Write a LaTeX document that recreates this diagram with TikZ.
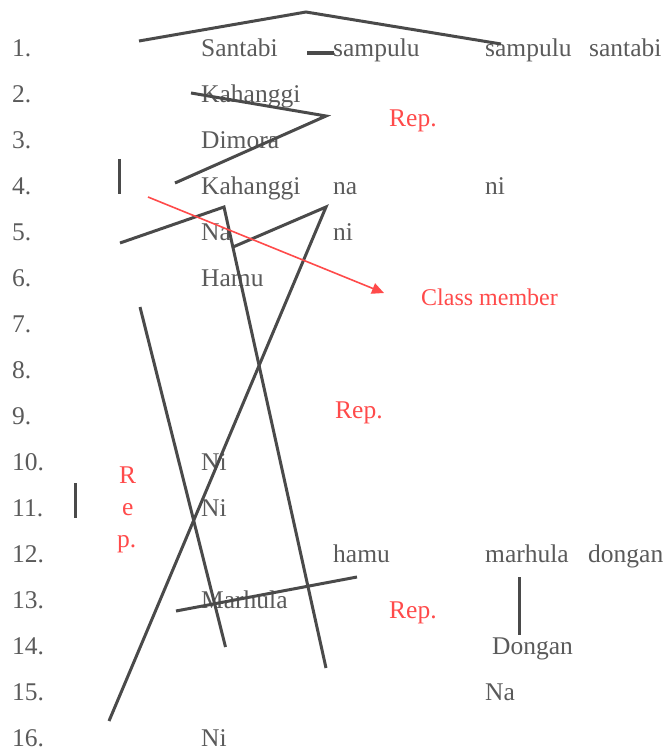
\documentclass[tikz,border=0pt]{standalone}
\usepackage{fontspec}
\setmainfont{Liberation Serif}
\usetikzlibrary{arrows.meta}
\definecolor{txtgray}{HTML}{5A5A5A}
\definecolor{linegray}{HTML}{4A4A4A}
\definecolor{repred}{HTML}{FF4A4A}
\begin{document}
\begin{tikzpicture}[x=1pt,y=-1pt,
  word/.style={anchor=base west,inner sep=0pt,text=txtgray,font=\fontsize{25.5}{30}\selectfont},
  num/.style={word},
  redword/.style={anchor=base west,inner sep=0pt,text=repred,font=\fontsize{25.5}{30}\selectfont},
  stroke/.style={draw=linegray,line width=3pt},
  redarrow/.style={draw=repred,line width=1.6pt,-{Triangle[length=12pt,width=11pt]}}]
\useasboundingbox (0,0) rectangle (667,751);
% row numbers
\foreach \i in {1,...,16}{
  \node[num] (n\i) at (12,{57+(\i-1)*45.95}) {\i.};
}
% column A
\node[word] (santabi1) at (201,57) {Santabi};
\node[word] (kahanggi2) at (201,103) {Kahanggi};
\node[word] (dimora) at (201,148.9) {Dimora};
\node[word] (kahanggi4) at (201,194.9) {Kahanggi};
\node[word] (na5) at (201,240.8) {Na};
\node[word] (hamu6) at (201,286.8) {Hamu};
\node[word] (ni10) at (201,470.6) {Ni};
\node[word] (ni11) at (201,516.5) {Ni};
\node[word] (marhula13) at (201,608.4) {Marhula};
\node[word] (ni16) at (201,746.3) {Ni};
% column B
\node[word] (sampulu1) at (333,57) {sampulu};
\node[word] (na4) at (333,194.9) {na};
\node[word] (ni5) at (333,240.8) {ni};
\node[word] (hamu12) at (333,562.5) {hamu};
% column C
\node[word] (sampulu1b) at (485,57) {sampulu};
\node[word] (santabi1b) at (589,57) {santabi};
\node[word] (ni4) at (485,194.9) {ni};
\node[word] (marhula12) at (485,562.5) {marhula};
\node[word] (dongan12) at (588,562.5) {dongan};
\node[word] (dongan14) at (492,654.4) {Dongan};
\node[word] (na15) at (485,700.4) {Na};
% red labels
\node[redword] (rep1) at (389,127) {Rep.};
\node[redword,font=\fontsize{24}{30}\selectfont] (classm) at (421,305) {Class member};
\node[redword] (rep2) at (335,418) {Rep.};
\node[redword] (rep3) at (389,618) {Rep.};
\node[redword] (vr) at (119,483) {R};
\node[redword] (ve) at (122,515.5) {e};
\node[redword] (vp) at (117,547.5) {p.};
% coordinates for strokes
\coordinate (a1) at (139,41); \coordinate (a2) at (306,12); \coordinate (a3) at (501,44);
\coordinate (d1) at (307,53); \coordinate (d2) at (334,53);
\coordinate (b1) at (191,93); \coordinate (b2) at (326,116); \coordinate (b3) at (175,183);
\coordinate (v1) at (119,159); \coordinate (v2) at (119,194);
\coordinate (r1) at (148,197); \coordinate (r2) at (384,293);
\coordinate (c1) at (120,243); \coordinate (c2) at (224,207); \coordinate (c3) at (326,668);
\coordinate (e1) at (140,307); \coordinate (e2) at (225.5,647);
\coordinate (f1) at (233,247); \coordinate (f2) at (326,207); \coordinate (f3) at (109,721);
\coordinate (g1) at (75,483); \coordinate (g2) at (75,518);
\coordinate (h1) at (176,611); \coordinate (h2) at (357,577);
\coordinate (k1) at (519,577); \coordinate (k2) at (519,635);
% strokes
\draw[stroke] (a1) -- (a2) -- (a3);
\draw[stroke,line width=4pt] (d1) -- (d2);
\draw[stroke] (b1) -- (b2) -- (b3);
\draw[stroke] (v1) -- (v2);
\draw[stroke] (c1) -- (c2) -- (c3);
\draw[stroke] (e1) -- (e2);
\draw[stroke] (f1) -- (f2) -- (f3);
\draw[stroke] (g1) -- (g2);
\draw[stroke] (h1) -- (h2);
\draw[stroke] (k1) -- (k2);
\draw[redarrow] (r1) -- (r2);
\end{tikzpicture}
\end{document}
